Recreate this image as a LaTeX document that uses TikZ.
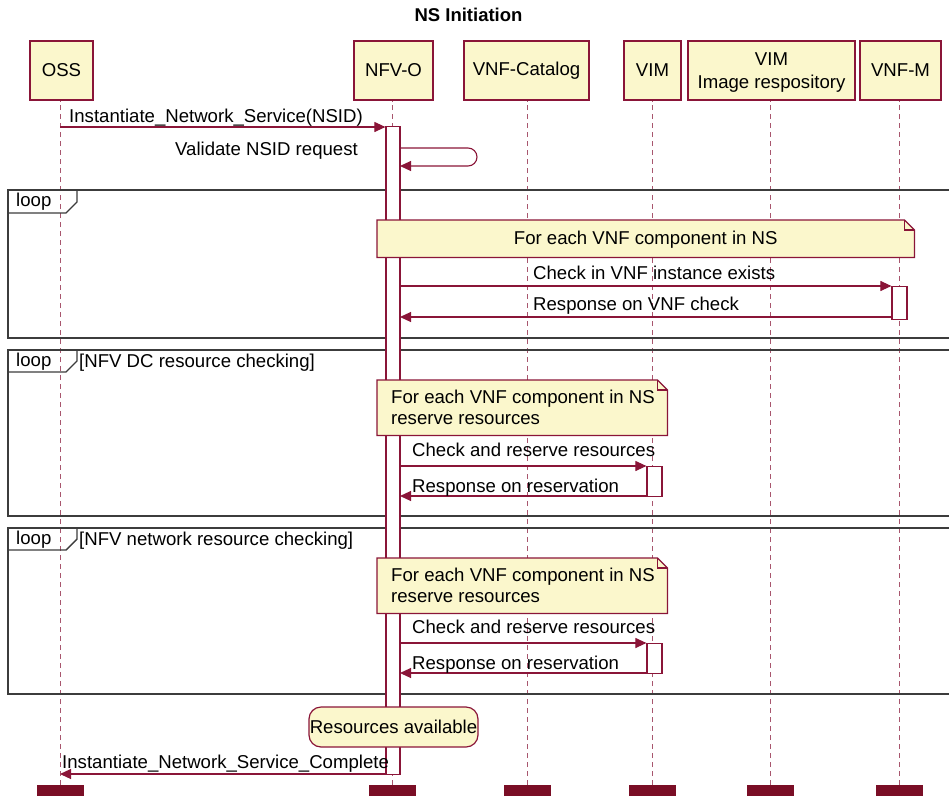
\documentclass[tikz,border=0pt]{standalone}
\usepackage{fontspec}
\setmainfont{Liberation Sans}
\usetikzlibrary{arrows.meta}
\definecolor{seqline}{HTML}{8A1538}
\definecolor{lifeln}{HTML}{A8566E}
\definecolor{notefill}{HTML}{FBF7CC}
\definecolor{framegray}{HTML}{3C3C3C}
\definecolor{footfill}{HTML}{7A0E26}
\begin{document}
\begin{tikzpicture}[x=1pt,y=-1pt,
  font=\fontsize{18.6}{22.5}\selectfont,
  actor/.style={draw=seqline, fill=notefill, line width=1.3pt, minimum height=59pt, inner sep=0pt, align=center},
  life/.style={draw=lifeln, line width=1.1pt, dash pattern=on 5pt off 4pt},
  msg/.style={draw=seqline, line width=1.1pt, -{Triangle[length=11pt,width=10pt]}},
  lbl/.style={anchor=base west, inner sep=0pt},
  frame/.style={draw=framegray, line width=1.4pt},
  actbar/.style={draw=seqline, fill=white, line width=1.2pt, inner sep=0pt, anchor=north},
  foot/.style={fill=footfill, draw=none, minimum width=47pt, minimum height=15pt, inner sep=0pt, anchor=north},
  notebg/.style={draw=seqline, fill=notefill, line width=1.2pt},
  spacer/.style={inner sep=0pt, anchor=north west},
]
\useasboundingbox (0,0) rectangle (949,795);
\clip (0,0) rectangle (949,795);

% title
\node[anchor=base, inner sep=0pt, font=\fontsize{18.5}{22}\selectfont\bfseries] (title) at (468.5,21) {NS Initiation};

% participants
\node[actor, minimum width=63pt]  (oss)  at (61.5,70.5)  {OSS};
\node[actor, minimum width=79pt]  (nfvo) at (393.5,70.5) {NFV-O};
\node[actor, minimum width=125pt] (cat)  at (526.5,70.5) {VNF-Catalog};
\node[actor, minimum width=57pt]  (vim)  at (652.5,70.5) {VIM};
\node[actor, minimum width=167pt] (img)  at (771.5,70.5) {};
\node[anchor=base, inner sep=0pt, align=center] (imgt) at (771.5,88) {VIM\\Image respository};
\node[actor, minimum width=81pt]  (vnfm) at (900.5,70.5) {VNF-M};

% footer blocks
\node[foot] (ossf)  at (60.5,785)  {};
\node[foot] (nfvof) at (392.5,785) {};
\node[foot] (catf)  at (527.5,785) {};
\node[foot] (vimf)  at (652.5,785) {};
\node[foot] (imgf)  at (770.5,785) {};
\node[foot] (vnfmf) at (899.5,785) {};

% lifelines
\foreach \p in {oss,nfvo,cat,vim,img,vnfm}
  \draw[life] (\p f.north) -- (\p f.north |- \p.south);

% loop frames
\draw[frame] (8,190) rectangle (975,338);
\draw[frame] (8,213) -- (66,213) -- (77,202) -- (77,190);
\node[lbl] (loop1) at (16,206.5) {loop};

\draw[frame] (8,350) rectangle (975,516);
\draw[frame] (8,372) -- (66,372) -- (77,361) -- (77,350);
\node[lbl] (loop2) at (16,366.5) {loop};
\node[lbl] (guard2) at (79,367) {[NFV DC resource checking]};

\draw[frame] (8,528) rectangle (975,694);
\draw[frame] (8,550) -- (66,550) -- (77,539) -- (77,528);
\node[lbl] (loop3) at (16,544.5) {loop};
\node[lbl] (guard3) at (79,545) {[NFV network resource checking]};

% activation bars
\node[actbar, minimum width=14pt, minimum height=648pt] (nact) at (393,126) {};
\node[actbar, minimum width=15pt, minimum height=33pt]  (mact) at (899.5,286) {};
\node[actbar, minimum width=15pt, minimum height=30pt]  (vact1) at (654.5,466) {};
\node[actbar, minimum width=15pt, minimum height=30pt]  (vact2) at (654.5,643) {};

% request from OSS
\coordinate (m1) at (60,127);
\draw[msg] (m1) -- (m1 -| nact.west);
\node[lbl] (m1t) at (69,122) {Instantiate\_Network\_Service(NSID)};

% self call on NFV-O
\coordinate (s1) at (400,148);
\coordinate (s2) at (400,166);
\draw[msg] (s1) -- (468,148) arc[start angle=-90, end angle=90, radius=9] -- (s2);
\node[anchor=base east, inner sep=0pt] (s1t) at (358,155) {Validate NSID request};

% note 1
\node[spacer, minimum width=537pt, minimum height=37pt] (n1) at (377,220) {};
\path[notebg] (n1.south west) -- (n1.north west) -- ([xshift=-10pt]n1.north east)
  -- ([yshift=-10pt]n1.north east) -- (n1.south east) -- cycle;
\draw[seqline, line width=1.2pt] ([xshift=-10pt]n1.north east) -- ([xshift=-10pt,yshift=-10pt]n1.north east) -- ([yshift=-10pt]n1.north east);
\node[anchor=base, inner sep=0pt] (n1t) at ([yshift=-6pt]n1.center) {For each VNF component in NS};

% VNF check
\coordinate (c1) at (400,286);
\draw[msg] (c1) -- (c1 -| mact.west);
\node[lbl] (c1t) at (533,279) {Check in VNF instance exists};
\coordinate (r1) at (400,317);
\draw[msg] (r1 -| mact.west) -- (r1);
\node[lbl] (r1t) at (533,310) {Response on VNF check};

% note 2
\node[spacer, minimum width=290pt, minimum height=55pt] (n2) at (377,380) {};
\path[notebg] (n2.south west) -- (n2.north west) -- ([xshift=-10pt]n2.north east)
  -- ([yshift=-10pt]n2.north east) -- (n2.south east) -- cycle;
\draw[seqline, line width=1.2pt] ([xshift=-10pt]n2.north east) -- ([xshift=-10pt,yshift=-10pt]n2.north east) -- ([yshift=-10pt]n2.north east);
\node[lbl] (n2a) at (391,403) {For each VNF component in NS};
\node[lbl] (n2b) at (391,424.5) {reserve resources};

% DC reservation
\coordinate (c2) at (400,466);
\draw[msg] (c2) -- (c2 -| vact1.west);
\node[lbl] (c2t) at (412,456) {Check and reserve resources};
\coordinate (r2) at (400,496);
\draw[msg] (r2 -| vact1.west) -- (r2);
\node[lbl] (r2t) at (412,492) {Response on reservation};

% note 3
\node[spacer, minimum width=290pt, minimum height=55pt] (n3) at (377,558) {};
\path[notebg] (n3.south west) -- (n3.north west) -- ([xshift=-10pt]n3.north east)
  -- ([yshift=-10pt]n3.north east) -- (n3.south east) -- cycle;
\draw[seqline, line width=1.2pt] ([xshift=-10pt]n3.north east) -- ([xshift=-10pt,yshift=-10pt]n3.north east) -- ([yshift=-10pt]n3.north east);
\node[lbl] (n3a) at (391,581) {For each VNF component in NS};
\node[lbl] (n3b) at (391,602.5) {reserve resources};

% network reservation
\coordinate (c3) at (400,643);
\draw[msg] (c3) -- (c3 -| vact2.west);
\node[lbl] (c3t) at (412,633) {Check and reserve resources};
\coordinate (r3) at (400,673);
\draw[msg] (r3 -| vact2.west) -- (r3);
\node[lbl] (r3t) at (412,669) {Response on reservation};

% state
\node[draw=seqline, fill=notefill, line width=1.2pt, rounded corners=12pt, minimum width=169pt, minimum height=40pt, inner sep=0pt] (res) at (393.5,727) {Resources available};

% completion
\coordinate (m2) at (60,774);
\draw[msg] (m2 -| nact.west) -- (m2);
\node[lbl] (m2t) at (62,768) {Instantiate\_Network\_Service\_Complete};
\end{tikzpicture}
\end{document}
